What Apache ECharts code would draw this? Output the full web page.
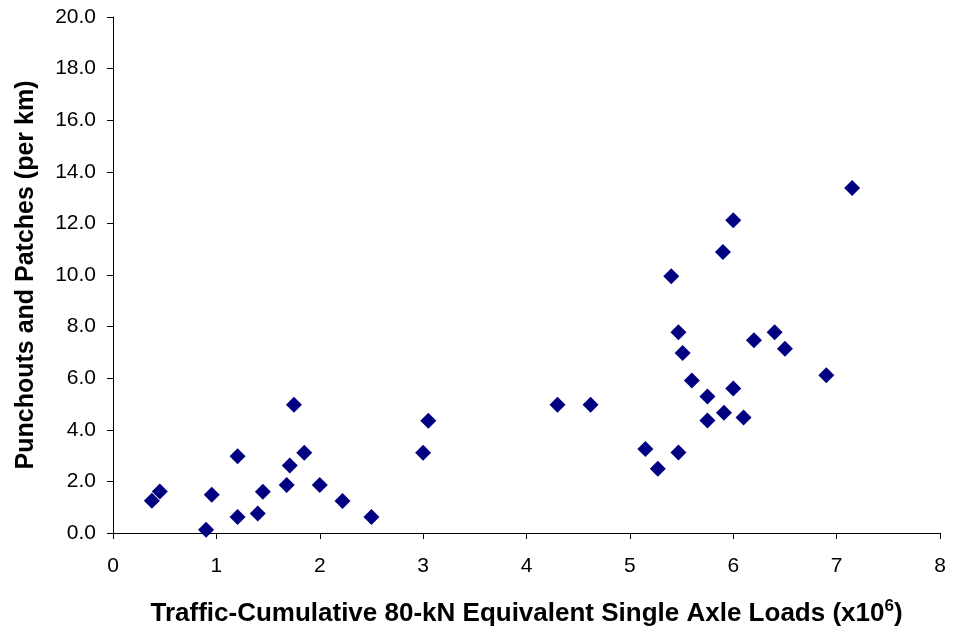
<!DOCTYPE html>
<html><head><meta charset="utf-8">
<script src="https://cdn.jsdelivr.net/npm/echarts@6/dist/echarts.min.js"></script>
<style>html,body{margin:0;padding:0;background:#fff}#c{width:955px;height:634px}</style>
</head><body><div id="c"></div>
<script>
const xValues = [0.376,0.453,0.955,0.90,1.205,1.205,1.40,1.45,1.68,1.71,1.75,1.85,2.00,2.22,2.50,3.00,3.05,4.30,4.62,5.15,5.27,5.40,5.47,5.51,5.47,5.60,5.75,5.75,5.91,5.90,6.00,6.00,6.10,6.20,6.40,6.50,6.90,7.15];
const yValues = [1.25,1.61,1.48,0.13,2.97,0.62,0.76,1.60,1.86,2.62,4.97,3.11,1.86,1.24,0.62,3.11,4.35,4.97,4.97,3.26,2.49,9.95,7.78,6.98,3.12,5.91,5.29,4.36,4.66,10.89,12.12,5.60,4.48,7.47,7.78,7.14,6.11,13.37];
const xTitle = 'Traffic-Cumulative 80-kN Equivalent Single Axle Loads (x10';
const yTitle = 'Punchouts and Patches (per km)';
const points = xValues.map((x, i) => [x, yValues[i]]);
const chart = echarts.init(document.getElementById('c'));
chart.setOption({
  animation: false,
  backgroundColor: '#fff',
  grid: {left: 113, right: 15, top: 17, bottom: 101},
  xAxis: {
    type: 'value', min: 0, max: 8, interval: 1,
    axisLine: {show: true, lineStyle: {color: '#000', width: 1}},
    axisTick: {show: true, length: 6, inside: false, lineStyle: {color: '#000'}},
    axisLabel: {color: '#000', fontFamily: 'Liberation Sans, Arial', fontSize: 21, margin: 23},
    splitLine: {show: false},
    name: '{a|' + xTitle + '}{s|6}{a|)}',
    nameLocation: 'middle', nameGap: 65,
    nameTextStyle: {rich: {
      a: {fontFamily: 'Liberation Sans, Arial', fontWeight: 'bold', fontSize: 26, color: '#000'},
      s: {fontFamily: 'Liberation Sans, Arial', fontWeight: 'bold', fontSize: 17, color: '#000', verticalAlign: 'top', padding: [0,0,15,0]}
    }}
  },
  yAxis: {
    type: 'value', min: 0, max: 20, interval: 2,
    axisLine: {show: true, lineStyle: {color: '#000', width: 1}},
    axisTick: {show: true, length: 6, inside: false, lineStyle: {color: '#000'}},
    axisLabel: {color: '#000', fontFamily: 'Liberation Sans, Arial', fontSize: 21, margin: 17, formatter: v => v.toFixed(1)},
    splitLine: {show: false},
    name: yTitle, nameLocation: 'middle', nameGap: 74,
    nameTextStyle: {fontFamily: 'Liberation Sans, Arial', fontWeight: 'bold', fontSize: 25, color: '#000'}
  },
  series: [{
    type: 'scatter', data: points, symbol: 'diamond', symbolSize: 16,
    itemStyle: {color: '#000080', opacity: 1}
  }]
});
</script></body></html>
